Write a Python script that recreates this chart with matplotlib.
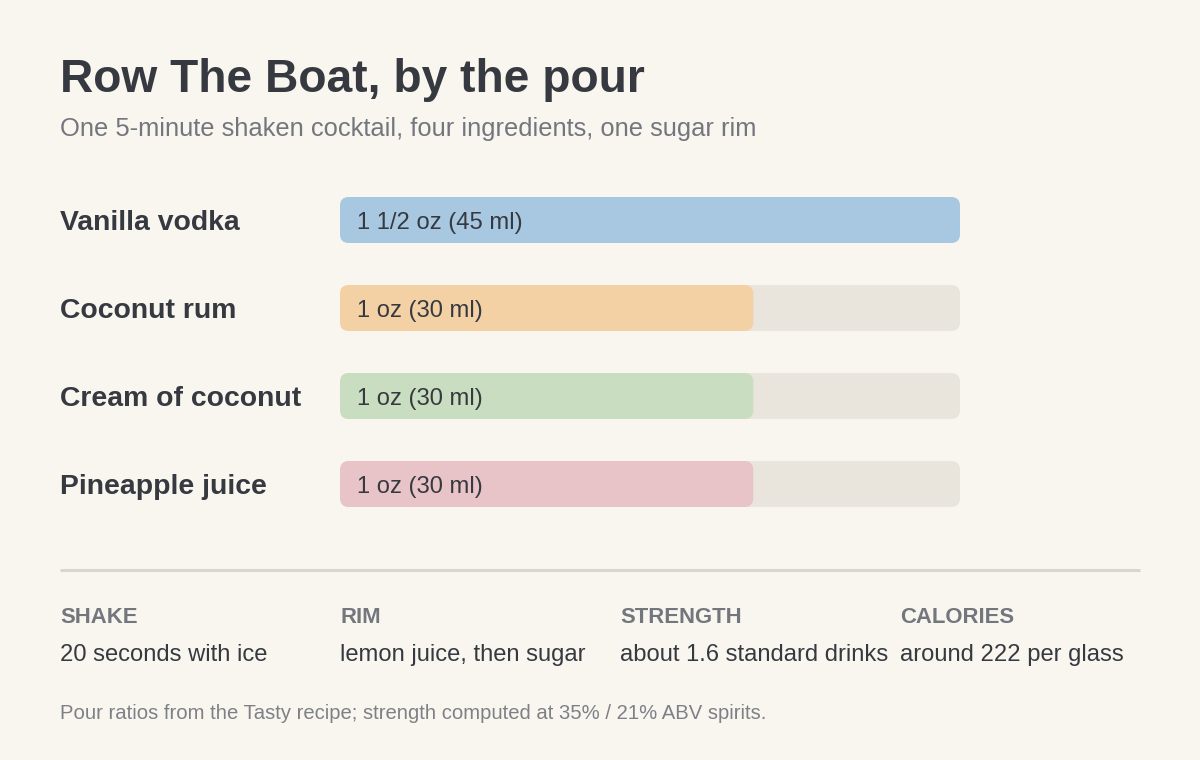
import matplotlib
matplotlib.use("Agg")
import os
import matplotlib.pyplot as plt
from matplotlib.patches import FancyBboxPatch
from matplotlib.font_manager import FontProperties, findfont

REG_PATH = findfont(FontProperties(family="Liberation Sans"))
BOLD_PATH = REG_PATH.replace("Regular", "Bold")
if not os.path.exists(BOLD_PATH):
    BOLD_PATH = findfont(FontProperties(family="Liberation Sans", weight="bold"))

def fp(size, bold=False):
    return FontProperties(fname=BOLD_PATH if bold else REG_PATH, size=size)

# ---- data ----
ingredients = ["Vanilla vodka", "Coconut rum", "Cream of coconut", "Pineapple juice"]
pour_ml = [45, 30, 30, 30]
pour_labels = ["1 1/2 oz (45 ml)", "1 oz (30 ml)", "1 oz (30 ml)", "1 oz (30 ml)"]
bar_colors = ["#a8c7e1", "#f3d1a5", "#c9ddc0", "#e8c4c8"]
facts_heads = ["SHAKE", "RIM", "STRENGTH", "CALORIES"]
facts_values = ["20 seconds with ice", "lemon juice, then sugar",
                "about 1.6 standard drinks", "around 222 per glass"]
title = "Row The Boat, by the pour"
subtitle = "One 5-minute shaken cocktail, four ingredients, one sugar rim"
note = "Pour ratios from the Tasty recipe; strength computed at 35% / 21% ABV spirits."

BG = "#f9f6f0"
DARK = "#363a40"
GREY = "#73777d"
TRACK = "#e9e5dc"

W, H = 1200, 760
fig = plt.figure(figsize=(W / 100, H / 100), dpi=100, facecolor=BG)

def fx(x):
    return x / W

def fy(y):
    return 1 - y / H

# title & subtitle
fig.text(fx(60), fy(92), title, fontproperties=fp(33.2, True), color=DARK, va="baseline")
fig.text(fx(60), fy(136), subtitle, fontproperties=fp(18.4), color=GREY, va="baseline")

# bar axes: x in ml, rows of 88 px
ax_left, ax_right = 340, 960
ax_top, ax_bot = 176, 528
ax = fig.add_axes([fx(ax_left), fy(ax_bot), fx(ax_right - ax_left), (ax_bot - ax_top) / H])
ax.set_facecolor("none")
maxv = max(pour_ml)
ax.set_xlim(0, maxv)
ax.set_ylim(len(ingredients), 0)
ax.axis("off")

px_per_x = (ax_right - ax_left) / maxv
px_per_y = (ax_bot - ax_top) / len(ingredients)
bar_h = 46 / px_per_y
r_px = 9
r_x = r_px / px_per_x
aspect = (r_px / px_per_y) / r_x

for i, (name, v, lab, c) in enumerate(zip(ingredients, pour_ml, pour_labels, bar_colors)):
    yc = i + 0.5
    y0 = yc - bar_h / 2
    track = FancyBboxPatch((0, y0), maxv, bar_h,
                           boxstyle=f"round,pad=0,rounding_size={r_x}",
                           mutation_aspect=aspect, facecolor=TRACK, edgecolor="none")
    ax.add_patch(track)
    bar = FancyBboxPatch((0, y0), v, bar_h,
                         boxstyle=f"round,pad=0,rounding_size={r_x}",
                         mutation_aspect=aspect, facecolor=c, edgecolor="none")
    ax.add_patch(bar)
    ax.text(17 / px_per_x, yc, lab, fontproperties=fp(17.1), color=DARK,
            va="center_baseline", ha="left")
    ycp = ax_top + yc * px_per_y
    fig.text(fx(60), fy(ycp), name, fontproperties=fp(20.4, True), color=DARK,
             va="center_baseline")

# divider
fig.add_artist(plt.Line2D([fx(60), fx(1140)], [fy(570), fy(570)], color="#dcd6ca", lw=2.2,
                          solid_capstyle="butt"))

# facts
cols = [60, 340, 620, 900]
for x, h, v in zip(cols, facts_heads, facts_values):
    fig.text(fx(x), fy(623), h, fontproperties=fp(15.9, True), color=GREY, va="baseline")
    fig.text(fx(x), fy(661), v, fontproperties=fp(17.1), color=DARK, va="baseline")

fig.text(fx(60), fy(719), note, fontproperties=fp(14.6), color="#7d8186", va="baseline")

fig.savefig("out.png", dpi=100, facecolor=BG)
